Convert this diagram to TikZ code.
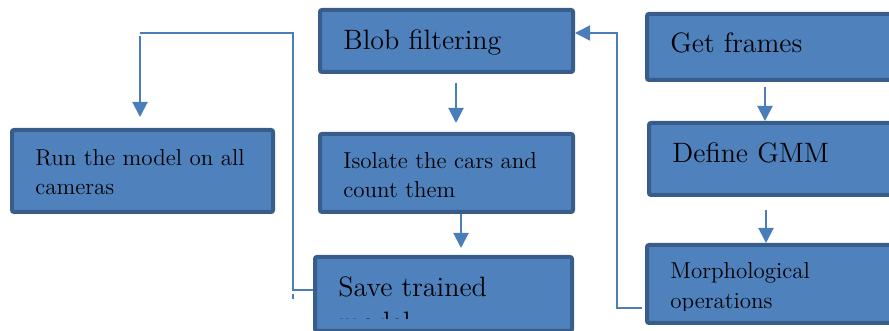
\documentclass[tikz,border=0pt]{standalone}
\usepackage{tikz}
\usetikzlibrary{arrows.meta}
\definecolor{boxfill}{HTML}{4F81BD}
\definecolor{boxline}{HTML}{385D8A}
\definecolor{linkblue}{HTML}{4A7EBB}
\tikzset{
	stepbox/.style={draw=boxline, fill=boxfill, line width=2pt, rounded corners=1pt, inner sep=0pt},
	bigtext/.style={anchor=base west, inner sep=0pt, align=left, font=\fontsize{14}{17.5}\selectfont},
	smalltext/.style={anchor=base west, inner sep=0pt, align=left, font=\fontsize{11.5}{14.5}\selectfont},
	headed/.style={-{Triangle[length=7.5pt,width=7.5pt]}},
	flow/.style={draw=linkblue, line width=1pt, headed},
	link/.style={draw=linkblue, line width=0.8pt},
}

\begin{document}
\begin{tikzpicture}[x=0.5pt, y=-0.5pt]
	\useasboundingbox (0,0) rectangle (889,331);

	% boxes
	\node[stepbox, minimum width=130.5pt, minimum height=41pt] (run) at (142.5,171) {};
	\node[stepbox, minimum width=126.5pt, minimum height=31pt] (blob) at (446.5,41) {};
	\node[stepbox, minimum width=126.5pt, minimum height=39pt] (isolate) at (446.5,173) {};
	\node[stepbox, minimum width=128.5pt, minimum height=37pt] (save) at (443.5,294) {};
	\node[stepbox, minimum width=138pt, minimum height=33pt] (frames) at (785,47) {};
	\node[stepbox, minimum width=137pt, minimum height=36pt] (gmm) at (786,159) {};
	\node[stepbox, minimum width=138pt, minimum height=39pt] (morph) at (785,284) {};

	% labels (base of a two-line label is its last line)
	\node[smalltext] (runtext) at ([shift={(25,67)}]run.north west) {Run the model on all\\cameras};
	\node[bigtext] (blobtext) at ([shift={(25,42)}]blob.north west) {Blob filtering};
	\node[smalltext] (isolatetext) at ([shift={(25,66)}]isolate.north west) {Isolate the cars and\\count them};
	\node[bigtext] (framestext) at ([shift={(25,41)}]frames.north west) {Get frames};
	\node[bigtext] (gmmtext) at ([shift={(25,42)}]gmm.north west) {Define GMM};
	\begin{scope}
		\clip (save.north west) rectangle ([shift={(0,64)}]save.north east);
		\node[bigtext] (savetext) at ([shift={(25,77)}]save.north west) {Save trained\\model};
	\end{scope}
	\begin{scope}
		\clip (morph.north west) rectangle ([shift={(0,68)}]morph.north east);
		\node[smalltext] (morphtext) at ([shift={(25,65)}]morph.north west) {Morphological\\operations};
	\end{scope}

	% arrows
	\draw[flow] ([shift={(120,5)}]frames.south west) -- ([shift={(118,0)}]gmm.north west);
	\draw[flow] ([shift={(119,13)}]gmm.south west) -- ([shift={(121,0)}]morph.north west);
	\draw[flow] ([shift={(138,9)}]blob.south west) -- ([shift={(138,-9)}]isolate.north west);
	\draw[flow] ([shift={(143,0)}]isolate.south west) -- ([shift={(148,-7)}]save.north west);
	\draw[link, headed] ([shift={(-3,-17)}]morph.south west) -- ++(-25,0) |- ([shift={(0,-8)}]blob.east);

	\coordinate (turn) at (293,33);
	\coordinate (drop) at (140,33);
	\draw[link] ([shift={(0,-4)}]save.west) -| (turn) -- (drop);
	\draw[link] (turn |- save.west) -- ++(0,5);
	\draw[flow, shorten <=1.5pt, shorten >=5.5pt] (drop) -- (drop |- run.north);
\end{tikzpicture}
\end{document}
